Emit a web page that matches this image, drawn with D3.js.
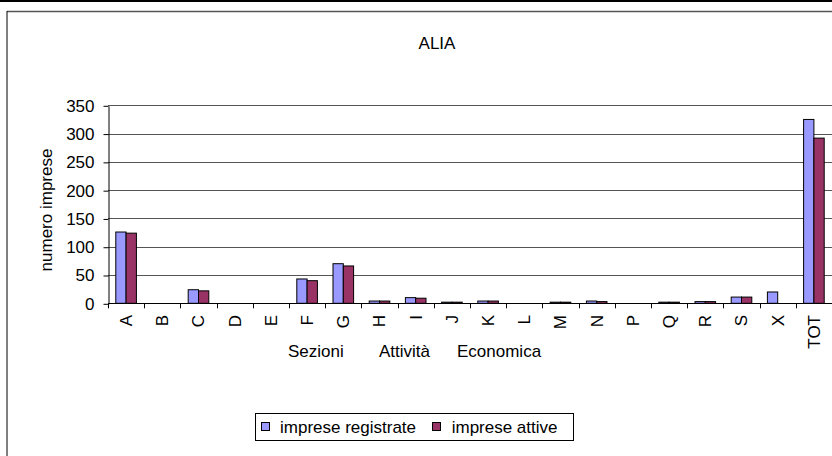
<!DOCTYPE html>
<html>
<head>
<meta charset="utf-8">
<script src="https://cdn.jsdelivr.net/npm/d3@7"></script>
<style>
  html, body { margin: 0; padding: 0; background: #fff; }
  svg { display: block; font-family: "Liberation Sans", Arial, sans-serif; }
</style>
</head>
<body>
<svg id="chart" width="832" height="456"></svg>
<script>
const categories = ["A","B","C","D","E","F","G","H","I","J","K","L","M","N","P","Q","R","S","X","TOT"];
const registrate = [126,0,24,0,0,43,70,4,10,2,4,0,2,4,0,2,3,11,20,325];
const attive     = [124,0,22,0,0,40,66,4,9,2,4,0,2,3,0,2,3,11,0,292];
const seriesNames = ["imprese registrate","imprese attive"];
const seriesColors = ["#9999FF","#993366"];
const yTicks = [0,50,100,150,200,250,300,350];
const title = "ALIA";
const yTitle = "numero imprese";
const xTitleParts = ["Sezioni","Attività","Economica"];

(function () {
const svg = d3.select("#chart");
const FS = 17;

// page frame
svg.append("rect").attr("x",0).attr("y",0).attr("width",832).attr("height",2).attr("fill","#000");
svg.append("line").attr("x1",7).attr("x2",832).attr("y1",11.5).attr("y2",11.5).attr("stroke","#555").attr("stroke-width",1.5);
svg.append("line").attr("x1",7).attr("x2",7).attr("y1",11).attr("y2",456).attr("stroke","#000").attr("stroke-width",1);

const pLeft = 108, pRight = 832, pTop = 105.3, pBottom = 303.3;
const x = d3.scaleBand().domain(categories).range([pLeft, pRight]).padding(0);
const y = d3.scaleLinear().domain([0,350]).range([pBottom, pTop]);
const bw = x.bandwidth();
const x1 = d3.scaleBand().domain([0,1]).range([bw/2 - 10.3, bw/2 + 10.3]).padding(0);

// gridlines
svg.append("g").selectAll("line").data(yTicks.filter(d => d > 0)).join("line")
  .attr("x1", pLeft).attr("x2", pRight)
  .attr("y1", d => Math.round(y(d)) + 0.5).attr("y2", d => Math.round(y(d)) + 0.5)
  .attr("stroke", "#555").attr("stroke-width", 1);

// y axis
const yAxis = d3.axisLeft(y).tickValues(yTicks).tickSize(5).tickPadding(9).tickSizeOuter(0);
const gy = svg.append("g").attr("transform", `translate(${pLeft + 0.5},0.5)`).call(yAxis);
gy.selectAll("text").attr("font-size", FS).attr("fill", "#000").attr("font-family", "Liberation Sans, Arial, sans-serif");
gy.selectAll("line, path").attr("stroke", "#000");

// bars
const data = categories.map((c, i) => ({c, v: [registrate[i], attive[i]]}));
const groups = svg.append("g").selectAll("g").data(data).join("g")
  .attr("transform", d => `translate(${x(d.c)},0)`);
groups.selectAll("rect").data(d => d.v.map((v, k) => ({v, k})).filter(e => e.v > 0)).join("rect")
  .attr("x", d => x1(d.k)).attr("width", x1.bandwidth())
  .attr("y", d => y(d.v)).attr("height", d => y(0) - y(d.v))
  .attr("fill", d => seriesColors[d.k]).attr("stroke", "#000").attr("stroke-width", 1);

// x axis line and ticks
svg.append("line").attr("x1", pLeft).attr("x2", pRight).attr("y1", pBottom + 0.2).attr("y2", pBottom + 0.2)
  .attr("stroke", "#000").attr("stroke-width", 1.2);
svg.append("g").selectAll("line").data(categories).join("line")
  .attr("x1", d => Math.round(x(d)) + 0.5).attr("x2", d => Math.round(x(d)) + 0.5)
  .attr("y1", pBottom).attr("y2", pBottom + 5).attr("stroke", "#000");

// x labels rotated
svg.append("g").selectAll("text").data(categories).join("text")
  .attr("transform", d => `translate(${x(d) + bw/2},315) rotate(-90)`)
  .attr("text-anchor", "end").attr("dy", "0.35em")
  .attr("font-size", FS).text(d => d);

// title
svg.append("text").attr("x", 437).attr("y", 49).attr("text-anchor", "middle").attr("font-size", FS).text(title);

// y title
svg.append("text").attr("transform", "translate(52,210) rotate(-90)").attr("text-anchor", "middle")
  .attr("font-size", FS).text(yTitle);

// x title
const xt = svg.append("text").attr("y", 357).attr("font-size", FS);
const xPos = [288, 379, 457];
xt.selectAll("tspan").data(xTitleParts).join("tspan").attr("x", (d, i) => xPos[i]).text(d => d);

// legend
const lg = svg.append("g");
lg.append("rect").attr("x", 255.5).attr("y", 413.5).attr("width", 318).attr("height", 27)
  .attr("fill", "#fff").attr("stroke", "#000");
const lx = [261, 432];
const tx = [280, 451.7];
seriesNames.forEach((n, i) => {
  lg.append("rect").attr("x", lx[i] + 0.5).attr("y", 422.5).attr("width", 8).attr("height", 8)
    .attr("fill", seriesColors[i]).attr("stroke", "#000");
  lg.append("text").attr("x", tx[i]).attr("y", 432.5).attr("font-size", FS).text(n);
});
})();
</script>
</body>
</html>
